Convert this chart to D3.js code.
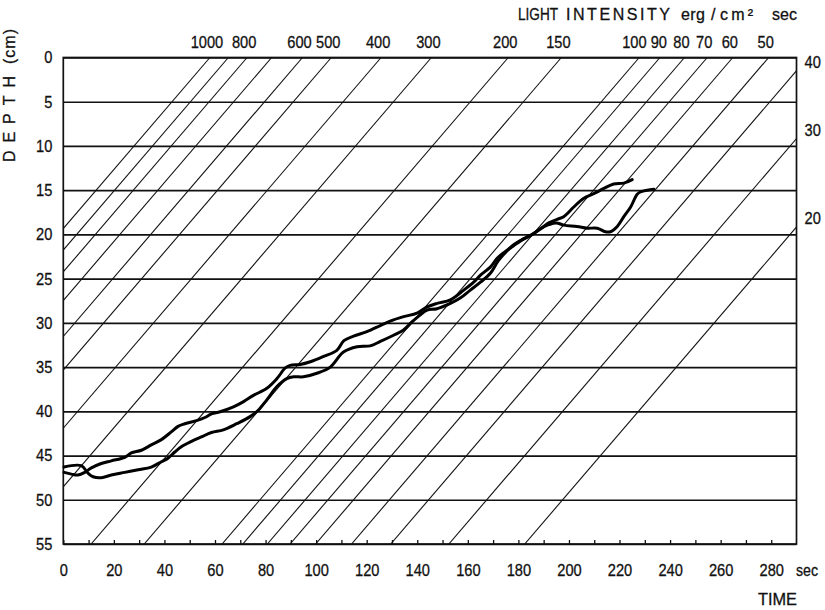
<!DOCTYPE html>
<html>
<head>
<meta charset="utf-8">
<script src="https://cdn.jsdelivr.net/npm/d3@7"></script>
<style>
  html, body { margin: 0; padding: 0; background: #fff; }
  svg text {
    font-family: "Liberation Sans", Arial, sans-serif;
    fill: #111;
    stroke: #111;
    stroke-width: 0.3px;
  }
</style>
</head>
<body>
<svg id="chart" width="825" height="610"></svg>
<script>
// Axis ticks
const depthTicks = d3.range(0, 56, 5);          // cm
const timeTicks = d3.range(0, 281, 10);         // s
const timeLabelStep = 20;

// Iso-intensity lines (erg/cm² sec) and the time (s) at which each reaches the surface
const isoIntensity   = [1000, 900, 800, 700, 600, 500, 400, 300, 200, 150, 100, 90, 80, 70, 60, 50, 40, 30, 20];
const isoSurfaceTime = [58, 65.3, 72.7, 82.4, 94.6, 106, 125.7, 145.6, 176, 197, 227.8, 236, 245.7, 254.7, 264.8, 279, 294.5, 317.5, 347.5];
const isoTopLabels   = [1000, 800, 600, 500, 400, 300, 200, 150, 100, 90, 80, 70, 60, 50];
const isoSideLabels  = [40, 30, 20];
const isoSlope = 3.0;   // seconds of delay per cm of depth

// Migration record A: time (s) and depth (cm)
const runATime  = [0.3, 7.1, 9.8, 11.8, 15.0, 19.0, 24.3, 29.6, 34.8, 38.8, 41.4, 44.1, 46.7, 50.7, 54.6, 58.6,
                   63.3, 68.6, 73.9, 77.2, 80.5, 84.5, 88.4, 91.1, 95.0, 100.3, 105.6, 110.8, 116.2, 121.4, 125.4,
                   130.6, 134.6, 137.9, 141.2, 143.9, 147.8, 153.1, 157.0, 161.0, 165.0, 168.9, 172, 175, 178, 182,
                   186, 189, 192, 195, 198, 203.2, 207.2, 211.2, 214.4, 216.4, 219.1, 221.7, 224.4, 227, 228.3, 231, 233.6];
const runADepth = [46.3, 46.15, 47.0, 47.4, 47.5, 47.2, 46.9, 46.6, 46.3, 45.7, 45.3, 44.6, 44.0, 43.4, 42.9, 42.4,
                   42.1, 41.4, 40.6, 39.85, 38.7, 37.2, 36.3, 36.1, 36.1, 35.7, 35.0, 33.3, 32.7, 32.6, 32.1,
                   31.4, 30.8, 29.9, 29.1, 28.55, 28.4, 27.8, 27.2, 26.3, 25.4, 24.4, 23.0, 22.0, 21.2, 20.5,
                   19.9, 19.3, 18.9, 18.7, 18.95, 19.1, 19.3, 19.3, 19.7, 19.7, 19.1, 18.0, 16.9, 15.45, 15.2, 15.0, 14.9];

// Migration record B: time (s) and depth (cm)
const runBTime  = [0.3, 3.2, 5.8, 8.5, 11.1, 15.0, 19.0, 24.3, 26.9, 30.9, 34.8, 38.8, 42.8, 45.4, 48.1, 53.3,
                   56.0, 58.6, 62.0, 67.3, 71.3, 75.2, 80.5, 84.5, 87.8, 89.7, 93.7, 97.7, 102.9, 108.2, 111,
                   114.8, 120.1, 125.4, 129.3, 134.6, 139.9, 143.9, 147.8, 153.1, 158.4, 162.3, 165, 168.9, 171.6,
                   174.5, 178, 181, 185, 188.7, 192, 195.3, 197.9, 201.9, 205.9, 209.8, 213.8, 217.7, 221.7, 225];
const runBDepth = [46.9, 47.1, 47.2, 46.9, 46.4, 45.9, 45.6, 45.2, 44.7, 44.4, 43.8, 43.2, 42.3, 41.7, 41.4, 41.0,
                   40.7, 40.3, 40.05, 39.5, 38.9, 38.2, 37.4, 36.3, 35.1, 34.8, 34.7, 34.4, 33.8, 33.1, 32.0,
                   31.5, 31.0, 30.3, 29.8, 29.3, 28.9, 28.2, 27.8, 27.4, 26.3, 25.4, 24.6, 23.7, 22.7,
                   22.0, 21.3, 20.7, 20.1, 19.4, 18.7, 18.3, 18.0, 16.9, 15.9, 15.4, 14.8, 14.3, 14.2, 13.8];

(function draw() {
  const svg = d3.select("#chart");
  const plotLeft = 63.3, plotRight = 796.5, plotTop = 57.5, plotBottom = 544;
  const tMax = 290, dMax = 55;
  const labelSize = 17;
  const condense = 0.86;   // narrow lettering for the numerals

  const x = d3.scaleLinear().domain([0, tMax]).range([plotLeft, plotRight]);
  const y = d3.scaleLinear().domain([0, dMax]).range([plotTop, plotBottom]);

  // squeeze a text element horizontally to a narrower face
  function narrow(sel, factor = condense) {
    sel.each(function () {
      const w = this.getComputedTextLength();
      if (w > 0) {
        d3.select(this).attr("textLength", w * factor).attr("lengthAdjust", "spacingAndGlyphs");
      }
    });
  }

  // fit a text or tspan to a width: letter-space when too short, squeeze when too long
  function fitTo(node, width) {
    const natural = node.getComputedTextLength();
    d3.select(node).attr("textLength", width)
      .attr("lengthAdjust", natural > width ? "spacingAndGlyphs" : "spacing");
  }

  svg.append("defs").append("clipPath").attr("id", "plot-clip")
    .append("rect")
    .attr("x", plotLeft).attr("y", plotTop)
    .attr("width", plotRight - plotLeft).attr("height", plotBottom - plotTop);

  // Horizontal depth grid with labels
  const yAxis = svg.append("g")
    .attr("transform", `translate(${plotLeft},0)`)
    .call(d3.axisLeft(y).tickValues(depthTicks).tickSize(-(plotRight - plotLeft)).tickPadding(11));
  yAxis.select(".domain").remove();
  yAxis.selectAll(".tick line").attr("stroke", "#111").attr("stroke-width", 1.7);
  yAxis.selectAll(".tick text").attr("font-size", labelSize).attr("font-family", null).call(narrow);

  // Iso-intensity lines
  const isoData = isoIntensity.map((v, i) => ({ value: v, t0: isoSurfaceTime[i] }));
  svg.append("g").attr("clip-path", "url(#plot-clip)")
    .selectAll("line").data(isoData).join("line")
    .attr("x1", d => x(d.t0)).attr("y1", y(0))
    .attr("x2", d => x(d.t0 - isoSlope * dMax)).attr("y2", y(dMax))
    .attr("stroke", "#111").attr("stroke-width", 1.1);

  // Intensity labels along the top, nudged apart where neighbours crowd each other
  const topLabels = svg.append("g").selectAll("text")
    .data(isoData.filter(d => isoTopLabels.includes(d.value))).join("text")
    .attr("y", 48)
    .attr("text-anchor", "middle").attr("font-size", labelSize)
    .text(d => d.value)
    .call(narrow);
  const placed = [];
  topLabels.each(function (d) {
    placed.push({ node: this, cx: x(d.t0) - 3, w: +this.getAttribute("textLength") });
  });
  const minGap = 4;
  for (let pass = 0; pass < 30; pass++) {
    for (let i = 1; i < placed.length; i++) {
      const a = placed[i - 1], b = placed[i];
      const gap = (b.cx - b.w / 2) - (a.cx + a.w / 2);
      if (gap < minGap) {
        const push = (minGap - gap) / 2;
        a.cx -= push;
        b.cx += push;
      }
    }
  }
  placed.forEach(p => d3.select(p.node).attr("x", p.cx));

  // Intensity labels down the right side
  svg.append("g").selectAll("text")
    .data(isoData.filter(d => isoSideLabels.includes(d.value))).join("text")
    .attr("x", plotRight + 8)
    .attr("y", d => y((d.t0 - tMax) / isoSlope) - 3)
    .attr("font-size", labelSize)
    .text(d => d.value)
    .call(narrow);

  // Time axis with inward ticks
  const xAxis = svg.append("g")
    .attr("transform", `translate(0,${plotBottom})`)
    .call(d3.axisBottom(x).tickValues(timeTicks).tickSize(-4).tickPadding(20)
      .tickFormat(d => d % timeLabelStep === 0 ? d : ""));
  xAxis.select(".domain").remove();
  xAxis.selectAll(".tick line").attr("stroke", "#111").attr("stroke-width", 1.3);
  xAxis.selectAll(".tick text").attr("font-size", labelSize).attr("font-family", null).call(narrow);

  // Frame
  svg.append("rect")
    .attr("x", plotLeft).attr("y", plotTop)
    .attr("width", plotRight - plotLeft).attr("height", plotBottom - plotTop)
    .attr("fill", "none").attr("stroke", "#111").attr("stroke-width", 1.7);

  // Migration records
  const line = d3.line().x(d => x(d[0])).y(d => y(d[1])).curve(d3.curveCatmullRom.alpha(0.5));
  const runs = [
    d3.zip(runATime, runADepth),
    d3.zip(runBTime, runBDepth)
  ];
  svg.append("g").selectAll("path").data(runs).join("path")
    .attr("d", line)
    .attr("fill", "none").attr("stroke", "#000")
    .attr("stroke-width", 3).attr("stroke-linejoin", "round").attr("stroke-linecap", "round");

  // Axis titles
  const secLabel = svg.append("text")
    .attr("x", 796).attr("y", 576).attr("font-size", 16)
    .text("sec");
  fitTo(secLabel.node(), 22);

  const timeTitle = svg.append("text")
    .attr("x", 758).attr("y", 604.5).attr("font-size", 17)
    .text("TIME");
  fitTo(timeTitle.node(), 39);

  const depthTitle = svg.append("text")
    .attr("transform", "translate(15,0) rotate(-90)")
    .attr("font-size", 16);
  [
    { s: "DEPTH", x0: -162, w: 86 },
    { s: "(cm)", x0: -64, w: 35 }
  ].forEach(p => {
    const t = depthTitle.append("tspan").attr("x", p.x0).text(p.s);
    fitTo(t.node(), p.w);
  });

  const lightTitle = svg.append("text").attr("y", 20).attr("font-size", 16);
  [
    { s: "LIGHT", x0: 518, w: 40 },
    { s: "INTENSITY", x0: 566, w: 104 },
    { s: "erg", x0: 681, w: 24 },
    { s: "/", x0: 711, w: 5 },
    { s: "cm²", x0: 720, w: 33 },
    { s: "sec", x0: 772, w: 25 }
  ].forEach(p => {
    const t = lightTitle.append("tspan").attr("x", p.x0).text(p.s);
    fitTo(t.node(), p.w);
  });
})();
</script>
</body>
</html>
